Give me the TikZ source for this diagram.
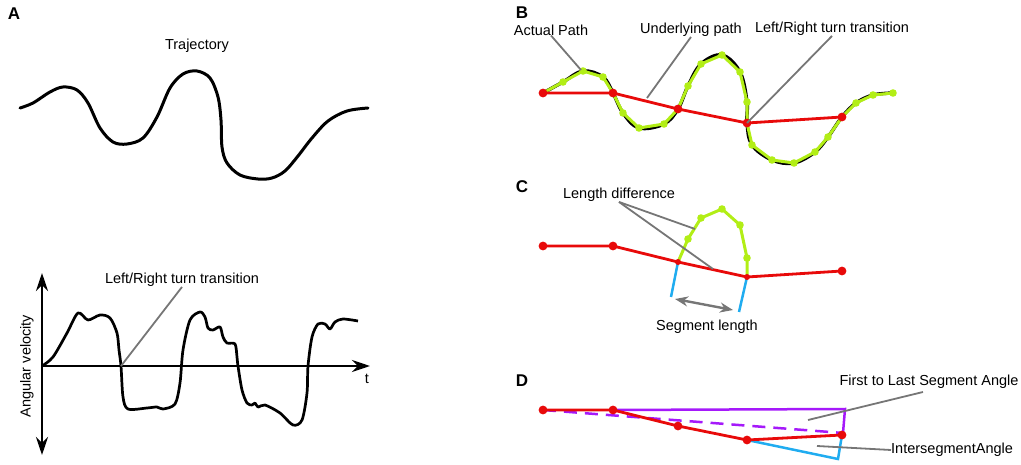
\documentclass[tikz,border=0pt]{standalone}
\usepackage{fontspec}
\setmainfont{Liberation Sans}
\usepackage{tikz}
\usetikzlibrary{positioning, arrows.meta}

\definecolor{redpath}{RGB}{232,10,10}
\definecolor{greenpath}{RGB}{178,238,22}
\definecolor{bluepath}{RGB}{32,172,240}
\definecolor{purplepath}{RGB}{165,25,250}
\definecolor{leadgray}{RGB}{118,118,118}

\begin{document}
\begin{tikzpicture}[x=1pt, y=-1pt,
  lbl/.style={font=\fontsize{14.5}{16}\selectfont, inner sep=0pt},
  panel/.style={font=\fontsize{17}{19}\selectfont\bfseries, inner sep=0pt},
  leader/.style={leadgray, line width=1.8pt},
  curve/.style={black, line width=3pt, line join=round, line cap=round},
  redline/.style={redpath, line width=2.8pt, line join=round},
  greenline/.style={greenpath, line width=3pt, line join=round},
  blueline/.style={bluepath, line width=2.5pt},
  purpleline/.style={purplepath, line width=2.5pt},
  axis/.style={black, line width=2.8pt, -{Stealth[length=18pt, width=12pt]}}]
\useasboundingbox (0,0) rectangle (1021,465);

% panel letters
\node[panel] (pA) at (14,14) {A};
\node[panel] (pB) at (522,13) {B};
\node[panel] (pC) at (522,187) {C};
\node[panel] (pD) at (522,381) {D};

% ---------- A: trajectory ----------
\node[lbl] (traj) at (197,46) {Trajectory};
\draw[curve] plot[smooth, tension=0.55] coordinates {
  (20,108) (33,103) (50,92) (63,87) (77,90) (88,103) (100,128) (113,142)
  (127,144) (143,138) (157,117) (170,88) (183,74) (197,71) (210,78)
  (218,97) (221,120) (222,147) (227,163) (240,175) (258,179) (272,178)
  (285,171) (298,156) (312,138) (328,121) (347,111) (368,108)};

% ---------- A: angular velocity ----------
\coordinate (orig) at (42,366);
\coordinate (ytop) at (42,273);
\coordinate (ybot) at (42,455);
\coordinate (xend) at (370,366);
\draw[axis] (orig) -- (ytop);
\draw[axis] (orig) -- (ybot);
\draw[axis] (orig) -- (xend);
\node[lbl] (tlab) at (367,379) {t};
\node[lbl, rotate=90] (av) at (27,366) {Angular velocity};

\draw[black, line width=2.7pt, line join=round] plot[smooth, tension=0.5] coordinates {
  (42,366) (53,357) (67,333) (78,313) (88,320) (100,315) (110,318)
  (117,333) (119,350) (121,366) (123,397) (128,409) (147,408) (157,407)
  (163,409) (175,404) (180,383) (183,350) (190,320) (200,312) (205,317)
  (208,328) (213,330) (220,327) (223,337) (227,343) (235,344) (237,357)
  (238,366) (242,390) (247,403) (252,405) (255,403) (258,407) (265,405)
  (280,413) (293,425) (302,420) (307,393) (308,366) (312,337) (318,324)
  (325,324) (330,329) (335,322) (343,319) (358,321)};

\coordinate (cross) at (121,366);
\node[lbl] (lrA) at (182,280) {Left/Right turn transition};
\draw[leader] (lrA.south) -- (cross);

% ---------- B: actual and underlying path ----------
\coordinate (b0) at (543,93);
\coordinate (b1) at (613,93);
\coordinate (b2) at (678,109);
\coordinate (b3) at (747,123);
\coordinate (b4) at (842,117);

\draw[curve, line width=3.4pt] plot[smooth, tension=0.6] coordinates {
  (543,93) (563,82) (583,71) (603,77) (613,93) (623,113) (639,128)
  (664,124) (678,109) (688,86) (701,64) (722,55) (740,72) (747,102)
  (747,123) (752,145) (772,160) (794,163) (815,152) (828,137) (842,117)
  (856,103) (873,95) (893,93)};
\draw[greenline] (b0) -- (563,82) -- (583,71) -- (603,77) -- (b1) -- (623,113)
  -- (639,128) -- (664,124) -- (b2) -- (688,86) -- (701,64) -- (722,55)
  -- (740,72) -- (747,102) -- (b3) -- (752,145) -- (772,160) -- (794,163)
  -- (815,152) -- (828,137) -- (b4) -- (856,103) -- (873,95) -- (893,93);
\foreach \p in {(563,82),(583,71),(603,77),(623,113),(639,128),(664,124),
  (688,86),(701,64),(722,55),(740,72),(747,102),(752,145),(772,160),
  (794,163),(815,152),(828,137),(856,103),(873,95),(893,93)}
  \fill[greenpath] \p circle (3.8pt);

\draw[redline] (b0) -- (b1) -- (b2) -- (b3) -- (b4);
\foreach \p in {b0,b1,b2,b3,b4}
  \fill[redpath] (\p) circle (4.4pt);

\node[lbl] (actual) at (551,30) {Actual Path};
\node[lbl] (under) at (691,30) {Underlying path};
\node[lbl] (lrB) at (832,29) {Left/Right turn transition};
\coordinate (actend) at (581,70);
\coordinate (undend) at (647,98);
\draw[leader] (actual.south) -- (actend);
\draw[leader] (under.south) -- (undend);
\draw[leader] (lrB.south) -- (b3);

% ---------- C: segment length ----------
\coordinate (c0) at (543,246);
\coordinate (c1) at (613,246);
\coordinate (c2) at (678,262);
\coordinate (c3) at (747,277);
\coordinate (c4) at (842,271);
\coordinate (c2low) at (671,297);
\coordinate (c3low) at (739,312);

\draw[greenline] (c2) -- (688,239) -- (701,218) -- (722,209) -- (740,225)
  -- (747,258) -- (c3);
\foreach \p in {(688,239),(701,218),(722,209),(740,225),(747,258)}
  \fill[greenpath] \p circle (3.8pt);
\draw[blueline] (c2) -- (c2low);
\draw[blueline] (c3) -- (c3low);
\draw[redline] (c0) -- (c1) -- (c2) -- (c3) -- (c4);
\foreach \p in {c0,c1,c4}
  \fill[redpath] (\p) circle (4.4pt);
\foreach \p in {c2,c3}
  \fill[redpath] (\p) circle (3pt);

\coordinate (sl1) at (675,299);
\coordinate (sl2) at (733,310);
\draw[leadgray, line width=2.4pt, {Stealth[length=13pt, width=10pt]}-{Stealth[length=13pt, width=10pt]}] (sl1) -- (sl2);
\node[lbl] (seglen) at (707,327) {Segment length};

\node[lbl] (lendiff) at (619,195) {Length difference};
\coordinate (ldgreen) at (695,229);
\coordinate (ldred) at (713,269);
\draw[leader] (lendiff.south) -- (ldgreen);
\draw[leader] (lendiff.south) -- (ldred);

% ---------- D: angles ----------
\coordinate (d0) at (543,410);
\coordinate (d1) at (613,410);
\coordinate (d2) at (678,426);
\coordinate (d3) at (747,440);
\coordinate (d4) at (842,435);
\coordinate (dcorner) at (845,409);
\coordinate (dend) at (843,433);
\coordinate (dblue) at (838,459);

\draw[purpleline] (d1) -- (dcorner) -- (dend);
\draw[purpleline, dashed, dash pattern=on 13pt off 8pt] (d0) -- (dend);
\draw[blueline] (d3) -- (dblue) -- (d4);
\draw[redline] (d0) -- (d1) -- (d2) -- (d3) -- (d4);
\foreach \p in {d0,d1,d2,d3,d4}
  \fill[redpath] (\p) circle (4.4pt);

\node[lbl] (firstlast) at (929,382) {First to Last Segment Angle};
\node[lbl, anchor=west] (interseg) at (891,450) {IntersegmentAngle};
\coordinate (flstart) at (923,392);
\coordinate (flend) at (808,420);
\coordinate (isend) at (817,446);
\draw[leader] (flstart) -- (flend);
\draw[leader] (interseg.west) -- (isend);
\end{tikzpicture}
\end{document}
